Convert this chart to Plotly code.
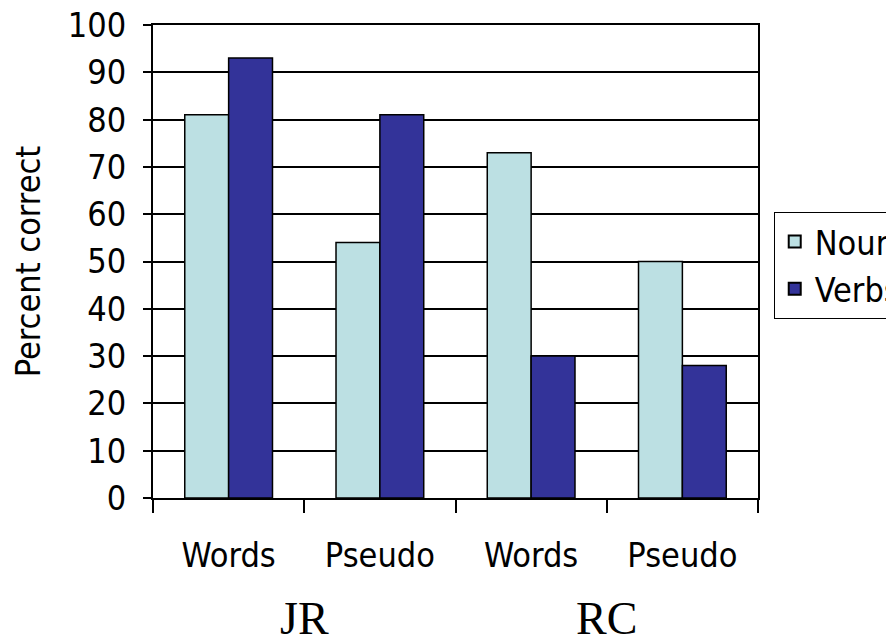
import plotly.graph_objects as go

categories = ["Words", "Pseudo", "Words", "Pseudo"]
groups = ["JR", "RC"]
nouns = [81, 54, 73, 50]
verbs = [93, 81, 30, 28]
y_ticks = [0, 10, 20, 30, 40, 50, 60, 70, 80, 90, 100]

positions = list(range(len(categories)))
boundaries = [p - 0.5 for p in positions] + [positions[-1] + 0.5]
tick_font = dict(family="DejaVu Sans Condensed, Tahoma, sans-serif", size=34, color="black")

fig = go.Figure()
fig.add_trace(go.Bar(x=positions, y=nouns, name="Nouns",
                     marker=dict(color="#BCE0E3", line=dict(color="black", width=1.5))))
fig.add_trace(go.Bar(x=positions, y=verbs, name="Verbs",
                     marker=dict(color="#333399", line=dict(color="black", width=1.5))))
# invisible trace just to carry the boundary ticks axis
fig.add_trace(go.Scatter(x=[boundaries[0], boundaries[-1]], y=[0, 0], xaxis="x2",
                         mode="lines", line=dict(width=0), showlegend=False, hoverinfo="skip"))

# group labels under each pair of categories
for i, g in enumerate(groups):
    fig.add_annotation(x=(positions[2 * i] + positions[2 * i + 1]) / 2, y=0,
                       xref="x", yref="paper", yshift=-148, showarrow=False,
                       text=g, font=dict(family="Liberation Serif, Times New Roman, serif",
                                         size=46, color="black"))

# page body adds 8px around the plot, so the figure is sized to fit inside the window
fig.update_layout(
    width=886, height=633,
    paper_bgcolor="white", plot_bgcolor="white",
    barmode="group", bargap=0.42, bargroupgap=0,
    margin=dict(l=145, r=136, t=17, b=143, autoexpand=False),
    showlegend=True,
    legend=dict(x=1.026, y=0.605, xanchor="left", yanchor="top",
                bordercolor="black", borderwidth=1, bgcolor="white",
                font=tick_font, traceorder="normal", itemsizing="constant",
                tracegroupgap=0),
    xaxis=dict(range=[boundaries[0], boundaries[-1]], tickvals=positions, ticktext=categories,
               ticks="", showgrid=False, zeroline=False, showline=False,
               tickfont=tick_font, ticklabelstandoff=34),
    xaxis2=dict(overlaying="x", range=[boundaries[0], boundaries[-1]], tickvals=boundaries,
                showticklabels=False, ticks="outside", ticklen=13, tickwidth=1.5, tickcolor="black",
                showgrid=False, zeroline=False, showline=True, linecolor="black", linewidth=2,
                mirror=True, side="bottom", anchor="y"),
    yaxis=dict(range=[0, 100], tickvals=y_ticks, ticks="outside", ticklen=8, tickwidth=1.5,
               tickcolor="black", showgrid=True, gridcolor="black", gridwidth=1.5,
               showline=True, linecolor="black", linewidth=2, mirror=True,
               zeroline=False, tickfont=tick_font, ticklabelstandoff=10,
               ticklabeloverflow="allow",
               title=dict(text="Percent correct", font=tick_font, standoff=30)),
)

fig.write_html("out.html")
